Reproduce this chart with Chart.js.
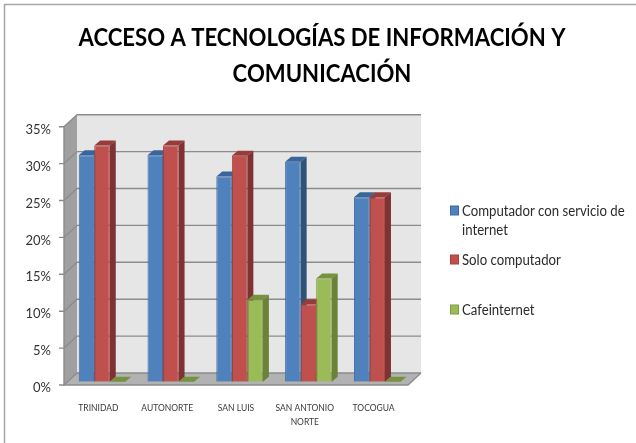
<!DOCTYPE html>
<html><head><meta charset="utf-8">
<style>html,body{margin:0;padding:0;background:#fff}#w{width:636px;height:443px}</style>
<script src="https://cdn.jsdelivr.net/npm/chart.js@4"></script>
</head><body><div id="w"><canvas id="c" width="636" height="443"></canvas></div>
<script>
const categories = ["TRINIDAD","AUTONORTE","SAN LUIS",["SAN ANTONIO","NORTE"],"TOCOGUA"];
const seriesNames = ["Computador con servicio de internet","Solo computador","Cafeinternet"];
const computadorInternet = [30.7,30.7,27.8,29.8,25];
const soloComputador = [32,32,30.6,10.5,25];
const cafeinternet = [0,0,11.1,14,0];
const titleLines = ["ACCESO A TECNOLOGÍAS DE INFORMACIÓN Y","COMUNICACIÓN"];
const legendLines = [["Computador con servicio de","internet"],["Solo computador"],["Cafeinternet"]];
const legendY = [211,260,310];
const colors = [
 {front:"#4f81bd",side:"#2f5378",top:"#39659a",edge:"#3c6aa0"},
 {front:"#c0504d",side:"#7f3231",top:"#963c3a",edge:"#a5403d"},
 {front:"#9bbb59",side:"#6b8238",top:"#76923c",edge:"#7f9a45"}
];
const FONT = "Lato, 'Open Sans', sans-serif";
const wallDX=13, wallDY=-12, barDX=3.6, barDY=-3.3, depthDX=6, depthDY=-5;

function poly(ctx,pts,fill,stroke){
  ctx.beginPath();pts.forEach((p,i)=>i?ctx.lineTo(p[0],p[1]):ctx.moveTo(p[0],p[1]));ctx.closePath();
  if(fill){ctx.fillStyle=fill;ctx.fill();}
  if(stroke){ctx.strokeStyle=stroke;ctx.lineWidth=1;ctx.stroke();}
}
function squeezed(ctx,s,x,y,k){ ctx.fillText(s,x,y,ctx.measureText(s).width*k); }
const scene = {
  id:"scene",
  beforeDraw(chart){
    const {ctx,scales:{x,y}}=chart, L=x.left,R=x.right,B=y.getPixelForValue(0),T=y.getPixelForValue(35);
    ctx.save();
    ctx.strokeStyle="#a6a6a6";ctx.lineWidth=1.5;
    ctx.beginPath();ctx.moveTo(4.5,443);ctx.lineTo(4.5,4.5);ctx.lineTo(636,4.5);ctx.stroke();
    poly(ctx,[[L+wallDX,T+wallDY],[R+wallDX,T+wallDY],[R+wallDX,B+wallDY],[L+wallDX,B+wallDY]],"#e6e6e6");
    poly(ctx,[[L,T],[L+wallDX,T+wallDY],[L+wallDX,B+wallDY],[L,B]],"#a0a0a0");
    poly(ctx,[[L,B],[L+wallDX,B+wallDY],[R+wallDX,B+wallDY],[R,B]],"#b2b2b2");
    ctx.strokeStyle="#8c8c8c";ctx.lineWidth=1.4;
    y.ticks.forEach(t=>{
      const p=y.getPixelForValue(t.value);
      ctx.beginPath();ctx.moveTo(L-5,p);ctx.lineTo(L,p);ctx.lineTo(L+wallDX,p+wallDY);
      ctx.lineTo(R+wallDX,p+wallDY);ctx.stroke();
    });
    ctx.beginPath();ctx.moveTo(L,T);ctx.lineTo(L,B);ctx.lineTo(R,B);ctx.lineTo(R+wallDX,B+wallDY);ctx.stroke();
    ctx.restore();
  },
  beforeDatasetsDraw(chart){
    const {ctx}=chart;
    ctx.save();ctx.translate(barDX,barDY);
    chart.data.datasets.forEach((ds,i)=>{
      chart.getDatasetMeta(i).data.forEach(b=>{
        const w=b.width/2, l=b.x-w, r=b.x+w, t=b.y, bot=b.base, c=colors[i];
        poly(ctx,[[l,t],[l+depthDX,t+depthDY],[r+depthDX,t+depthDY],[r,t]],c.top);
        if(bot-t>0.5) poly(ctx,[[r,t],[r+depthDX,t+depthDY],[r+depthDX,bot+depthDY],[r,bot]],c.side);
      });
    });
  },
  afterDatasetsDraw(chart){
    chart.ctx.restore();
    const {ctx}=chart;
    ctx.save();
    ctx.textAlign="center";ctx.textBaseline="alphabetic";ctx.fillStyle="#000";
    ctx.font="bold 25.5px "+FONT;
    titleLines.forEach((s,i)=>squeezed(ctx,s,322,46+i*36,0.868));
    ctx.font="14.5px "+FONT;ctx.textBaseline="middle";ctx.textAlign="left";
    legendLines.forEach((ls,i)=>{
      const y0=legendY[i];
      ctx.fillStyle=colors[i].front;ctx.strokeStyle=colors[i].edge;ctx.lineWidth=1;
      ctx.fillRect(450.5,y0-5,8,9);ctx.strokeRect(450.5,y0-5,8,9);
      ctx.fillStyle="#2b2b2b";
      ls.forEach((s,k)=>squeezed(ctx,s,462,y0+k*19.5,0.91));
    });
    ctx.restore();
  }
};
new Chart(document.getElementById("c"),{
  type:"bar",
  data:{labels:categories,datasets:[computadorInternet,soloComputador,cafeinternet].map((d,i)=>({
    label:seriesNames[i],data:d,backgroundColor:colors[i].front,borderColor:colors[i].edge,borderWidth:1,
    categoryPercentage:0.677,barPercentage:1}))},
  options:{
    responsive:false,animation:false,
    layout:{padding:{left:0,right:228,top:126.7,bottom:0}},
    plugins:{legend:{display:false},tooltip:{enabled:false},title:{display:false}},
    scales:{
      x:{afterFit(s){s.height=58;},grid:{display:false},border:{display:false},
        ticks:{maxRotation:0,autoSkip:false,padding:8,color:"#3a3a3a",font:{family:FONT,size:8.5,lineHeight:1.7}}},
      y:{min:0,max:35,afterFit(s){s.width=64;},grid:{display:false},border:{display:false},
        ticks:{stepSize:5,padding:5,labelOffset:3,color:"#333",callback:v=>v+"%",font:{family:FONT,size:13}}}
    }
  },
  plugins:[scene]
});
</script></body></html>
